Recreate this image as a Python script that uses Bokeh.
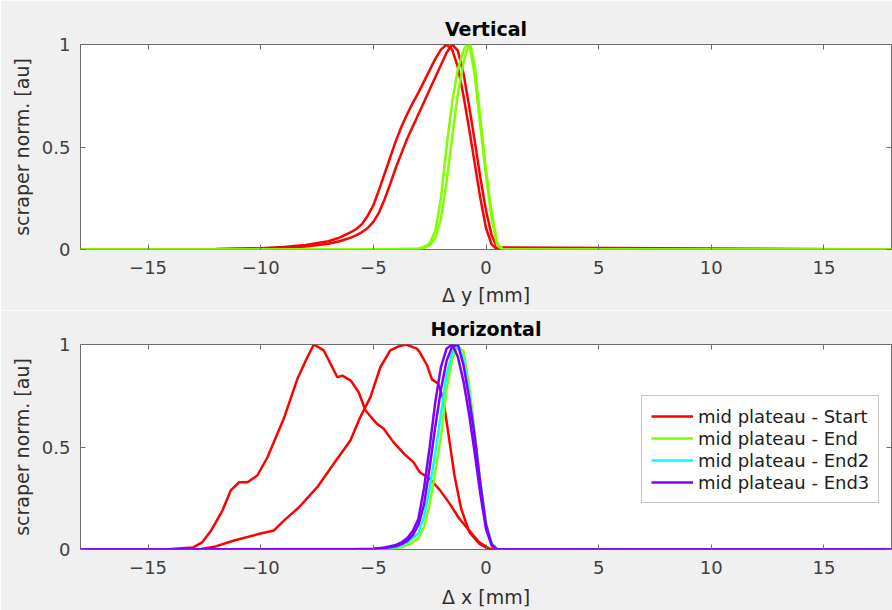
from bokeh.plotting import figure
from bokeh.layouts import column
from bokeh.models import (Range1d, LinearAxis, FixedTicker, Legend, LegendItem,
                          NumeralTickFormatter, CustomJSTickFormatter)
from bokeh.embed import file_html
from bokeh.resources import INLINE

# ---------------- data ----------------
X_TICKS = [-15, -10, -5, 0, 5, 10, 15]
Y_TICKS = [0, 0.5, 1]

# Vertical panel
V_X_RED = [-18, -12, -10, -9, -8, -7, -6.5,
           -6, -5.75, -5.5, -5.25, -5, -4.75, -4.5, -4.25, -4, -3.75, -3.5, -3.25, -3,
           -2.75, -2.5, -2.25, -2, -1.75, -1.5, -1.25, -1, -0.75, -0.5, -0.25, 0, 0.25, 0.5,
           18]
V_RED_1 = [0, 0.002, 0.006, 0.012, 0.022, 0.04, 0.058,
           0.085, 0.1, 0.125, 0.165, 0.215, 0.29, 0.37, 0.45, 0.53, 0.6, 0.66, 0.715, 0.765,
           0.82, 0.875, 0.93, 0.975, 1.0, 0.975, 0.89, 0.75, 0.59, 0.42, 0.25, 0.105, 0.025, 0,
           0]
V_RED_2 = [0, 0.001, 0.004, 0.008, 0.015, 0.028, 0.04,
           0.058, 0.07, 0.085, 0.105, 0.135, 0.18, 0.245, 0.32, 0.4, 0.47, 0.54, 0.6, 0.66,
           0.72, 0.78, 0.84, 0.9, 0.96, 1.0, 0.97, 0.86, 0.7, 0.53, 0.35, 0.19, 0.07, 0.01,
           0]
V_X_GRN = [-18, -6, -4, -3, -2.75, -2.5, -2.25, -2, -1.75, -1.5, -1.25, -1, -0.85, -0.7,
           -0.5, -0.25, 0, 0.25, 0.5, 0.75, 18]
V_GRN_1 = [0, 0.0, 0.002, 0.005, 0.012, 0.03, 0.09, 0.25, 0.5, 0.72, 0.88, 0.97, 1.0, 0.98,
           0.85, 0.6, 0.36, 0.15, 0.02, 0, 0]
V_GRN_2 = [0, 0.0, 0.001, 0.003, 0.008, 0.02, 0.055, 0.15, 0.33, 0.55, 0.76, 0.91, 0.97, 1.0,
           0.9, 0.64, 0.39, 0.18, 0.03, 0, 0]

# Horizontal panel
H_X_RED_A = [-18, -14, -13, -12.6, -12.2, -11.7, -11.33, -10.96, -10.59, -10.15, -9.7, -8.97,
             -8.38, -7.93, -7.64, -7.2, -6.9, -6.6, -6.38, -6.0, -5.65, -5.35, -4.84, -4.54,
             -4.12, -3.6, -3.22, -2.94, -2.5, -2.06, -1.62, -1.18, -0.8, -0.3, 0.15, 0.5, 18]
H_RED_A = [0, 0.002, 0.01, 0.035, 0.093, 0.19, 0.288, 0.328, 0.328, 0.361, 0.45, 0.64, 0.83,
           0.938, 1.0, 0.971, 0.906, 0.84, 0.848, 0.824, 0.767, 0.678, 0.613, 0.589, 0.525,
           0.463, 0.426, 0.377, 0.345, 0.292, 0.225, 0.15, 0.1, 0.035, 0.005, 0, 0]
H_X_RED_B = [-18, -13, -12.65, -12, -11.18, -10, -9.41, -8.97, -8.3, -7.49, -6.76, -6.02,
             -5.58, -5.13, -4.69, -4.25, -3.9, -3.55, -3.07, -2.94, -2.62, -2.4, -2.13, -1.91,
             -1.69, -1.4, -1.1, -0.74, -0.3, 0.1, 0.5, 18]
H_RED_B = [0, 0, 0.002, 0.015, 0.044, 0.078, 0.093, 0.141, 0.206, 0.304, 0.418, 0.532, 0.646,
           0.743, 0.889, 0.971, 0.99, 1.0, 0.98, 0.962, 0.9, 0.83, 0.81, 0.74, 0.58, 0.361,
           0.198, 0.085, 0.028, 0.003, 0, 0]
H_X_NAR = [-18, -6, -5, -4.5, -4, -3.75, -3.5, -3.25, -3, -2.75, -2.5, -2.25, -2, -1.75, -1.5,
           -1.25, -1, -0.75, -0.5, -0.25, 0, 0.25, 0.5, 18]
H_GRN = [0, 0, 0.001, 0.003, 0.007, 0.012, 0.02, 0.035, 0.055, 0.11, 0.22, 0.38, 0.55, 0.78,
         0.93, 0.99, 0.97, 0.8, 0.57, 0.33, 0.13, 0.03, 0, 0]
H_CYN = [0, 0, 0.002, 0.005, 0.012, 0.02, 0.033, 0.055, 0.08, 0.16, 0.3, 0.47, 0.66, 0.85,
         0.96, 1.0, 0.93, 0.76, 0.55, 0.32, 0.12, 0.03, 0, 0]
H_PUR_A = [0, 0.001, 0.004, 0.01, 0.022, 0.035, 0.055, 0.09, 0.15, 0.3, 0.5, 0.72, 0.89, 0.98,
           1.0, 0.94, 0.82, 0.66, 0.47, 0.27, 0.1, 0.02, 0, 0]
H_PUR_B = [0, 0.001, 0.003, 0.007, 0.016, 0.026, 0.042, 0.07, 0.12, 0.22, 0.4, 0.6, 0.78, 0.92,
           0.99, 1.0, 0.9, 0.74, 0.55, 0.32, 0.12, 0.025, 0, 0]

LABELS = ["mid plateau - Start", "mid plateau - End", "mid plateau - End2", "mid plateau - End3"]
COLORS = ["#ff0000", "#80ff00", "#00ffff", "#8000ff"]

FONT = "DejaVu Sans"
AX = "#6e6e6e"
LW = 2.5


def make_fig(height, top_b, bottom_b, title, xlabel, xlabel_standoff):
    p = figure(width=892, height=height, x_range=Range1d(-18, 18), y_range=Range1d(0, 1),
               output_backend="svg", toolbar_location=None, title=title,
               min_border_left=80, min_border_right=1, min_border_top=top_b,
               min_border_bottom=bottom_b)
    p.background_fill_color = "white"
    p.border_fill_color = "#f0f0f0"
    p.outline_line_color = AX
    p.outline_line_width = 1
    p.grid.visible = False
    p.title.align = "center"
    p.title.text_font = FONT
    p.title.text_font_size = "19px"
    p.title.text_font_style = "bold"
    p.title.text_color = "#000000"
    p.title.standoff = 10

    xa = p.xaxis[0]
    xa.ticker = FixedTicker(ticks=X_TICKS)
    xa.formatter = CustomJSTickFormatter(code="return tick < 0 ? '\\u2212' + (-tick) : String(tick)")
    xa.axis_label = xlabel
    ya = p.yaxis[0]
    ya.ticker = FixedTicker(ticks=Y_TICKS)
    ya.formatter = NumeralTickFormatter(format="0.[0]")
    ya.axis_label = "scraper norm. [au]"
    for ax in (xa, ya):
        ax.axis_line_color = None
        ax.major_tick_in = 5
        ax.major_tick_out = 0
        ax.major_tick_line_color = AX
        ax.minor_tick_line_color = None
        ax.major_label_text_font = FONT
        ax.major_label_text_font_size = "18px"
        ax.major_label_text_color = "#404040"
        ax.axis_label_text_font = FONT
        ax.axis_label_text_font_size = "19px"
        ax.axis_label_text_font_style = "normal"
        ax.axis_label_text_color = "#303030"
    xa.major_label_standoff = 11
    xa.axis_label_standoff = xlabel_standoff
    ya.major_label_standoff = 10
    ya.axis_label_standoff = 6

    for loc, tk in (("above", X_TICKS), ("right", Y_TICKS)):
        ax = LinearAxis(ticker=FixedTicker(ticks=tk), axis_line_color=None,
                        major_tick_in=5, major_tick_out=0, major_tick_line_color=AX,
                        minor_tick_line_color=None, major_label_text_font_size="0px",
                        major_label_text_color=None, major_label_standoff=0)
        p.add_layout(ax, loc)
    return p


top = make_fig(310, 44, 61, "Vertical", "\u0394 y [mm]", 7)
top.line(V_X_RED, V_RED_1, line_color=COLORS[0], line_width=LW)
top.line(V_X_RED, V_RED_2, line_color=COLORS[0], line_width=LW)
top.line(V_X_GRN, V_GRN_1, line_color=COLORS[1], line_width=LW)
top.line(V_X_GRN, V_GRN_2, line_color=COLORS[1], line_width=LW)

bot = make_fig(300, 34, 61, "Horizontal", "\u0394 x [mm]", 9)
r_red = bot.line(H_X_RED_A, H_RED_A, line_color=COLORS[0], line_width=LW)
bot.line(H_X_RED_B, H_RED_B, line_color=COLORS[0], line_width=LW)
r_grn = bot.line(H_X_NAR, H_GRN, line_color=COLORS[1], line_width=LW)
r_cyn = bot.line(H_X_NAR, H_CYN, line_color=COLORS[2], line_width=LW)
r_pur = bot.line(H_X_NAR, H_PUR_A, line_color=COLORS[3], line_width=LW)
bot.line(H_X_NAR, H_PUR_B, line_color=COLORS[3], line_width=LW)

legend = Legend(items=[LegendItem(label=LABELS[i], renderers=[r])
                       for i, r in enumerate([r_red, r_grn, r_cyn, r_pur])],
                location=(561, 46), glyph_width=42, glyph_height=22, label_height=22,
                label_standoff=5, padding=9, spacing=0, margin=0,
                label_text_font=FONT, label_text_font_size="18px",
                label_text_color="#202020", border_line_color="#8a8a8a",
                border_line_width=1, background_fill_color="white", background_fill_alpha=1)
bot.add_layout(legend)

layout = column(top, bot)
open("out.html", "w").write(file_html(layout, INLINE))
